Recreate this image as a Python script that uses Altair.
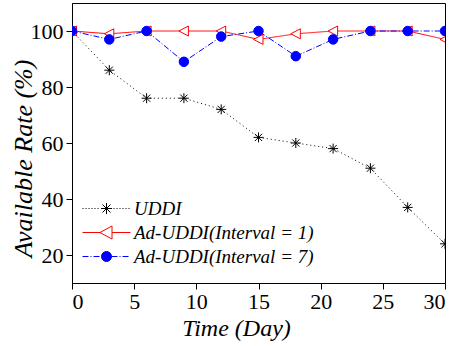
import altair as alt
import pandas as pd

days = [0, 3, 6, 9, 12, 15, 18, 21, 24, 27, 30]
uddi = [100, 86, 76, 76, 72, 62, 60, 58, 51, 37, 24]
ad1 = [100, 99, 100, 100, 100, 97, 99, 100, 100, 100, 97]
ad7 = [100, 97, 100, 89, 98, 100, 91, 97, 100, 100, 100]
series = ["UDDI", "Ad-UDDI(Interval = 1)", "Ad-UDDI(Interval = 7)"]
x_ticks = [i * 2.5 for i in range(13)]
y_ticks = [20, 30, 40, 50, 60, 70, 80, 90, 100]

rows = []
for s, vals in zip(series, [uddi, ad1, ad7]):
    for d, v in zip(days, vals):
        rows.append({"day": d, "rate": v, "series": s})
df = pd.DataFrame(rows)

colors = ["#000000", "#ff0000", "#0000ff"]
fills = ["transparent", "#ffffff", "#0000ff"]
dash_range = [[1, 3], [1, 0], [6, 2, 1, 2]]

STAR = "M-1,0L1,0M0,-1L0,1M-0.72,-0.72L0.72,0.72M-0.72,0.72L0.72,-0.72"
TRI = "M-1,0L0.9,-1L0.9,1Z"
CIRC = "M0.95,0A0.95,0.95,0,1,1,-0.95,0A0.95,0.95,0,1,1,0.95,0Z"


def dashes(x0, x1, pattern):
    out = []
    x = x0
    i = 0
    while x < x1 - 0.05:
        on, off = pattern[i % len(pattern)]
        e = min(x + on, x1)
        out.append(f"M{x:.2f},0L{e:.2f},0")
        x = e + off
        i += 1
    return "".join(out)


dot_pat = [(0.2, 0.4)]
dashdot_pat = [(1.2, 0.4), (0.2, 0.4)]
leg_star = dashes(-4.8, -1.3, dot_pat) + "M-1.1,0L1.1,0M0,-1.1L0,1.1M-0.8,-0.8L0.8,0.8M-0.8,0.8L0.8,-0.8" + dashes(1.4, 4.8, dot_pat)
leg_tri = "M-4.8,0L-1.3,0M-1.3,0L1.1,-1.3L1.1,1.3ZM1.1,0L4.8,0"
leg_circ = dashes(-4.8, -1.0, dashdot_pat) + "M1,0A1,1,0,1,1,-1,0A1,1,0,1,1,1,0Z" + dashes(1.0, 4.8, dashdot_pat)

xscale = alt.Scale(domain=[0, 30], nice=False, zero=False)
yscale = alt.Scale(domain=[10, 110], nice=False, zero=False)

FONT = "Liberation Serif"

xaxis = alt.Axis(
    values=x_ticks,
    labelExpr="datum.value % 5 === 0 ? datum.label : ''",
    labelOverlap=False,
    tickSize={"condition": {"test": "datum.value % 5 === 0", "value": 6}, "value": 3},
    title="Time (Day)",
    titleFontStyle="italic",
    titleFontSize=24,
    titleFontWeight="normal",
    titleX=164,
    titleY=52,
    titleBaseline="alphabetic",
    labelFontSize=22,
    labelPadding=2,
    grid=False,
)
yaxis = alt.Axis(
    values=y_ticks,
    labelExpr="datum.value % 20 === 0 ? datum.label : ''",
    labelOverlap=False,
    tickSize={"condition": {"test": "datum.value % 20 === 0", "value": 6}, "value": 3},
    title="Available Rate (%)",
    titleFontStyle="italic",
    titleFontSize=26,
    titleFontWeight="normal",
    titleX=-41,
    titleY=155,
    titleAngle=-90,
    titleBaseline="alphabetic",
    titleAlign="center",
    labelFontSize=22,
    labelPadding=3,
    grid=False,
)

base = alt.Chart(df)

lines = base.mark_line(strokeWidth=1, clip=True).encode(
    x=alt.X("day:Q", scale=xscale, axis=xaxis),
    y=alt.Y("rate:Q", scale=yscale, axis=yaxis),
    stroke=alt.Stroke("series:N", scale=alt.Scale(domain=series, range=colors), legend=None),
    strokeDash=alt.StrokeDash("series:N", scale=alt.Scale(domain=series, range=dash_range), legend=None),
    detail="series:N",
)

points = base.mark_point(size=100, strokeWidth=1, opacity=1, clip=True).encode(
    x=alt.X("day:Q", scale=xscale),
    y=alt.Y("rate:Q", scale=yscale),
    shape=alt.Shape("series:N", scale=alt.Scale(domain=series, range=[STAR, TRI, CIRC]), legend=None),
    stroke=alt.Stroke("series:N", scale=alt.Scale(domain=series, range=colors), legend=None),
    fill=alt.Fill("series:N", scale=alt.Scale(domain=series, range=fills), legend=None),
    order=alt.Order("sidx:Q"),
).transform_calculate(
    sidx="indexof(['UDDI','Ad-UDDI(Interval = 1)','Ad-UDDI(Interval = 7)'], datum.series)"
)

legend = alt.Legend(
    title=None,
    orient="none",
    legendX=25,
    legendY=196,
    labelFont=FONT,
    labelFontStyle="italic",
    labelFontSize=19,
    labelColor="#000000",
    labelOffset=18,
    labelLimit=400,
    rowPadding=4,
    padding=0,
    symbolStrokeWidth=1,
    symbolSize=100,
)

legend_layer = base.transform_filter("datum.day < 0").mark_point(size=100, strokeWidth=1, opacity=1).encode(
    x=alt.X("day:Q", scale=xscale),
    y=alt.Y("rate:Q", scale=yscale),
    shape=alt.Shape("series:N", scale=alt.Scale(domain=series, range=[leg_star, leg_tri, leg_circ]), legend=legend),
    stroke=alt.Stroke("series:N", scale=alt.Scale(domain=series, range=colors), legend=legend),
    fill=alt.Fill("series:N", scale=alt.Scale(domain=series, range=fills), legend=legend),
)

chart = (
    alt.layer(lines, points, legend_layer)
    .resolve_scale(shape="independent", stroke="independent", fill="independent", strokeDash="independent")
    .properties(
        width=373,
        height=280,
        autosize=alt.AutoSizeParams(type="none"),
        padding={"left": 72, "top": 3, "right": 9, "bottom": 63},
        background="white",
    )
    .configure_view(stroke="#000000", strokeWidth=1)
    .configure_axis(
        labelFont=FONT,
        titleFont=FONT,
        labelColor="#000000",
        titleColor="#000000",
        domainColor="#000000",
        tickColor="#000000",
        domainWidth=1,
        tickWidth=1,
    )
)

chart.save("out.html", embed_options={"renderer": "svg", "actions": False})
